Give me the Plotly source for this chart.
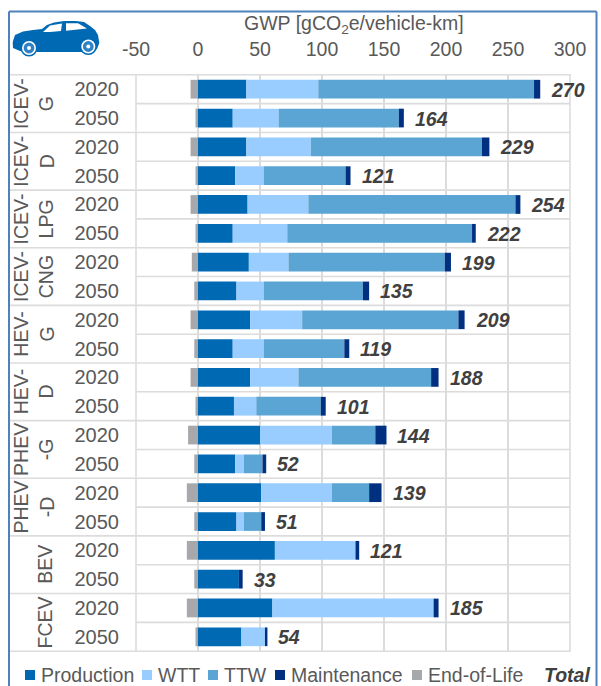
import plotly.graph_objects as go

groups = ["ICEV-<br>G", "ICEV-<br>D", "ICEV-<br>LPG", "ICEV-<br>CNG", "HEV-<br>G", "HEV-<br>D",
          "PHEV<br>-G", "PHEV<br>-D", "BEV", "FCEV"]
years = ["2020", "2050"]
production = [39, 28, 39, 30, 40, 28, 41, 31, 42, 28, 42, 29, 50, 30, 51, 31, 62, 33, 60, 35]
wtt = [58, 37, 52, 23, 49, 44, 32, 22, 42, 25, 39, 18, 58, 7, 57, 6, 65, 0, 130, 19]
ttw = [174, 97, 138, 66, 167, 149, 126, 80, 126, 65, 107, 52, 35, 15, 30, 14, 0, 0, 0, 0]
maintenance = [5, 4, 6, 4, 4, 3, 5, 5, 5, 4, 6, 4, 9, 3, 10, 3, 3, 3, 4, 2]
end_of_life = [-6, -2, -6, -2, -6, -2, -5, -3, -6, -3, -6, -2, -8, -3, -9, -3, -9, -3, -9, -2]
totals = [270, 164, 229, 121, 254, 222, 199, 135, 209, 119, 188, 101, 144, 52, 139, 51, 121, 33, 185, 54]
x_ticks = [-50, 0, 50, 100, 150, 200, 250, 300]
x_tick_labels = ["-50", "0", "50", "100", "150", "200", "250", "300"]
legend_names = ["Production", "WTT", "TTW", "Maintenance", "End-of-Life"]

COLORS = ["#0069b4", "#99ccff", "#5aa5d4", "#00307f", "#a7a8ab"]
GREY = "#595959"
DARK = "#404040"
GRID = "#dcdcdc"
FS = 19.5
FONT = "Liberation Sans"

W, H = 601, 686
L, R, T, B = 136.0, 570.0, 74.0, 652.0


def px(x):
    return (x - L) / (R - L)


def py(y):
    return (B - y) / (B - T)


rows = [f"{i}|{y}" for i in range(len(groups)) for y in years]
series = [production, wtt, ttw, maintenance, end_of_life]

fig = go.Figure()
for name, vals, col in zip(legend_names, series, COLORS):
    fig.add_trace(go.Bar(y=rows, x=vals, name=name, orientation="h",
                         marker=dict(color=col, line=dict(width=0)), showlegend=False))

shapes = []
ann = []


def hline(x0, y_pos, color=GRID, width=1.6):
    shapes.append(dict(type="line", xref="paper", yref="y", x0=x0, x1=1, y0=y_pos, y1=y_pos,
                       line=dict(color=color, width=width), layer="below"))


# row separators
for i in range(len(rows) + 1):
    hline(px(10) if i % 2 == 0 else 0, i - 0.5)
# plot frame verticals
for xp in (0, 1):
    shapes.append(dict(type="line", xref="paper", yref="paper", x0=xp, x1=xp, y0=0, y1=1,
                       line=dict(color=GRID, width=1.6), layer="below"))

# outer blue frame, open at the bottom (cut off by the picture)
for (a, b, c, d) in [(9, 11.5, 9, 690), (9, 11.5, 596.5, 11.5), (596.5, 11.5, 596.5, 690)]:
    shapes.append(dict(type="line", xref="paper", yref="paper", x0=px(a), y0=py(b), x1=px(c), y1=py(d),
                       line=dict(color="#4f81bd", width=2)))

# axis title
ann.append(dict(x=px(353.5), y=py(25), xref="paper", yref="paper", text="GWP [gCO<sub>2</sub>e/vehicle-km]",
                showarrow=False, xanchor="center", yanchor="middle",
                font=dict(family=FONT, size=FS, color=GREY)))

# total labels
for i, t in enumerate(totals):
    pos = production[i] + wtt[i] + ttw[i] + maintenance[i]
    ann.append(dict(x=pos, y=rows[i], xref="x", yref="y", text=f"<b><i>{t}</i></b>", showarrow=False,
                    xanchor="left", yanchor="middle", xshift=9, yshift=-0.5,
                    font=dict(family=FONT, size=FS, color=DARK)))

# vehicle group labels
for i, g in enumerate(groups):
    two = "<br>" in g
    ann.append(dict(x=px(33.5 if two else 45), y=2 * i + 0.5, xref="paper", yref="y", text=g, showarrow=False,
                    textangle=-90, xanchor="center", yanchor="middle", align="center",
                    font=dict(family=FONT, size=FS, color=GREY)))

# legend
swatches = [25, 142, 208, 275, 412]
for sx, name, col in zip(swatches, legend_names, COLORS):
    shapes.append(dict(type="rect", xref="paper", yref="paper", x0=px(sx), x1=px(sx + 10),
                       y0=py(670), y1=py(680), fillcolor=col, line=dict(width=0)))
    ann.append(dict(x=px(sx + 13.5), y=py(675), xref="paper", yref="paper", text=name, showarrow=False,
                    xanchor="left", yanchor="middle", font=dict(family=FONT, size=FS, color=GREY)))
ann.append(dict(x=px(592), y=py(675), xref="paper", yref="paper", text="<b><i>Total</i></b>", showarrow=False,
                xanchor="right", yanchor="middle", font=dict(family=FONT, size=FS, color=DARK)))


# car icon
def path(points):
    return "M " + " L ".join(f"{px(x):.5f},{py(y):.5f}" for x, y in points) + " Z"


CAR = "#0069b4"
body = [(13, 48), (12.7, 42), (15, 35), (23, 31.5), (33, 30), (42, 29), (47, 25), (54, 22.5), (64, 21),
        (76, 21), (84, 22), (90, 26), (95, 30), (98, 35), (99.3, 43), (97, 49), (90, 52), (35, 52), (20, 51)]
win1 = [(43, 32), (50, 25.5), (62, 23.5), (61, 31), (50, 32)]
win2 = [(66, 23.3), (78, 23.3), (87, 28.5), (66, 30.8)]
shapes.append(dict(type="path", xref="paper", yref="paper", path=path(body), fillcolor=CAR, line=dict(width=0)))
for w in (win1, win2):
    shapes.append(dict(type="path", xref="paper", yref="paper", path=path(w), fillcolor="white", line=dict(width=0)))
for cx, cy in [(29, 48), (88.3, 46.5)]:
    for r, col in [(8.6, CAR), (7.0, "white"), (5.4, "#2f82c6"), (2.0, "white")]:
        shapes.append(dict(type="circle", xref="paper", yref="paper", x0=px(cx - r), x1=px(cx + r),
                           y0=py(cy + r), y1=py(cy - r), fillcolor=col, line=dict(width=0)))

fig.update_layout(
    width=W, height=H, autosize=False,
    margin=dict(l=L, r=W - R, t=T, b=H - B, pad=0),
    paper_bgcolor="white", plot_bgcolor="white",
    barmode="relative", bargap=0.35,
    font=dict(family=FONT, size=FS, color=GREY),
    shapes=shapes, annotations=ann,
    xaxis=dict(side="top", range=[-50, 300], tickmode="array", tickvals=x_ticks, ticktext=x_tick_labels,
               showgrid=True, gridcolor=GRID, gridwidth=1.6, zeroline=False, showline=False,
               ticks="outside", ticklen=9, tickcolor="rgba(0,0,0,0)",
               tickfont=dict(family=FONT, size=FS, color=GREY)),
    yaxis=dict(type="category", categoryorder="array", categoryarray=rows, autorange="reversed",
               tickmode="array", tickvals=rows, ticktext=[r.split("|")[1] for r in rows],
               showgrid=False, zeroline=False, showline=False,
               ticks="outside", ticklen=12, tickcolor="rgba(0,0,0,0)",
               tickfont=dict(family=FONT, size=20, color=GREY)),
)

fig.write_html("out.html", config=dict(displayModeBar=False),
               post_script="document.body.style.margin='0';document.body.style.overflow='hidden';")
